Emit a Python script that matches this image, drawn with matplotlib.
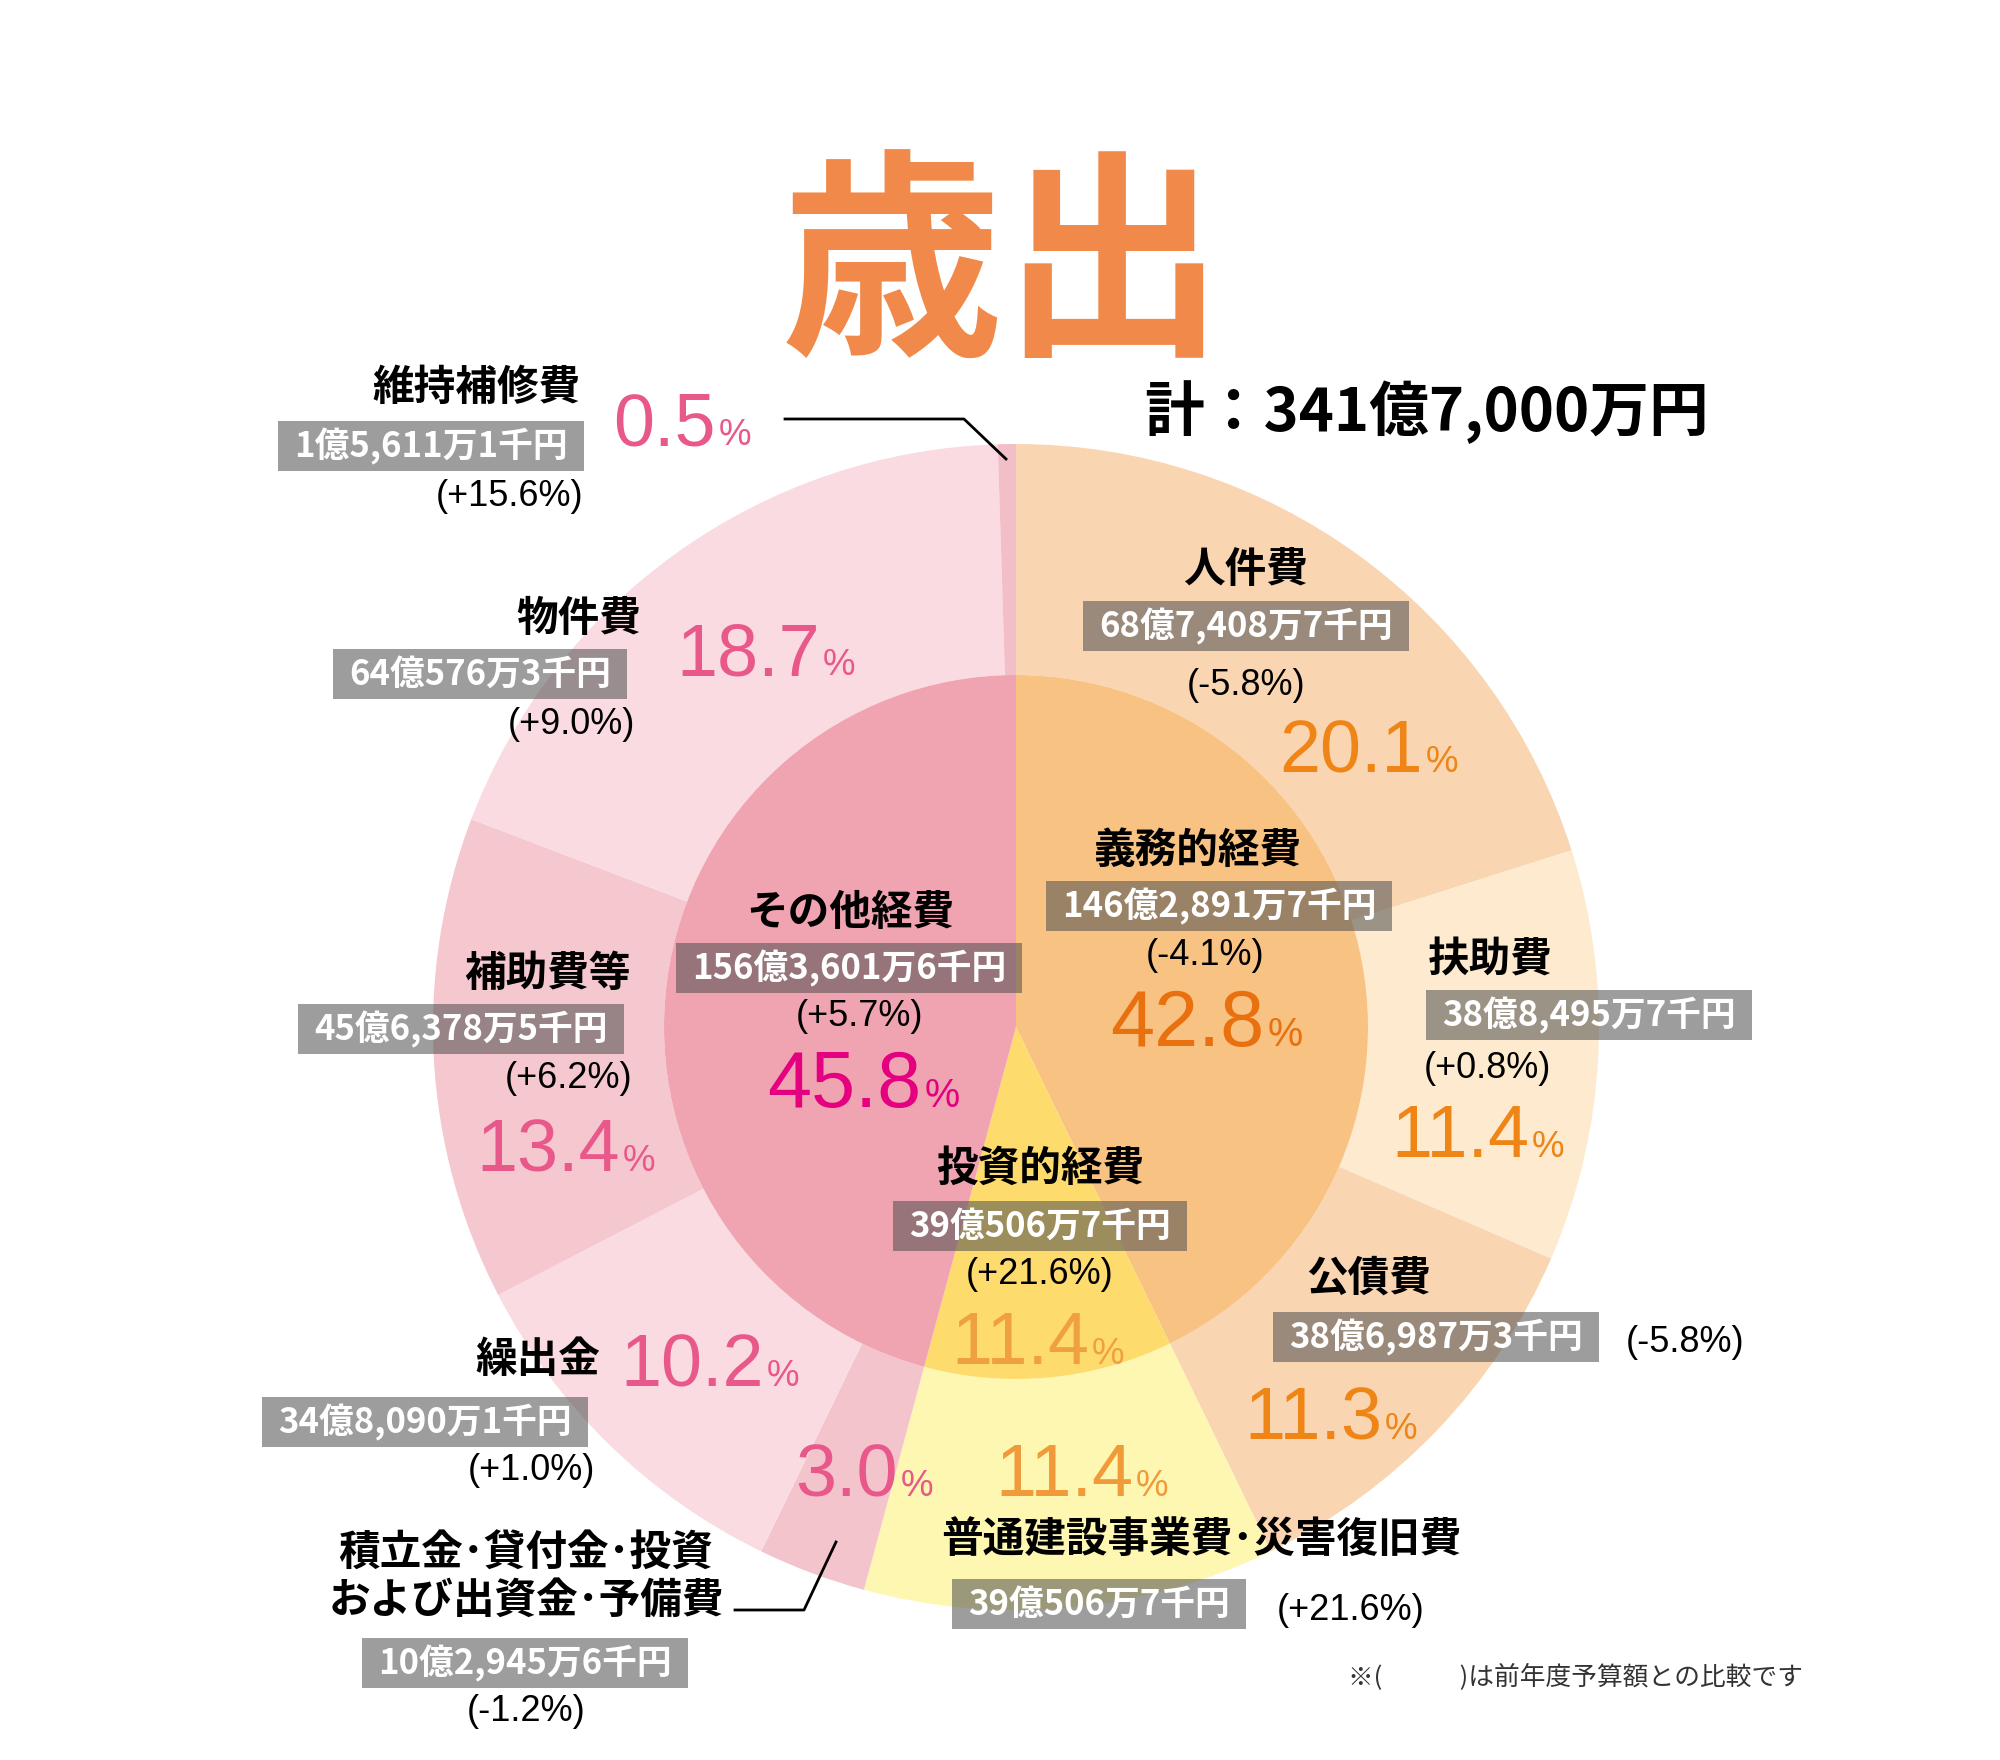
import matplotlib.pyplot as plt
from matplotlib.patches import Rectangle

# canvas in pixels
W, H = 2000, 1760

# ---- data ----
outer_labels = ['人件費', '扶助費', '公債費', '普通建設事業費･災害復旧費',
                '積立金･貸付金･投資\nおよび出資金･予備費', '繰出金', '補助費等',
                '物件費', '維持補修費']
outer_share = [20.1, 11.4, 11.3, 11.4, 3.0, 10.2, 13.4, 18.7, 0.5]
outer_amount = ['68億7,408万7千円', '38億8,495万7千円', '38億6,987万3千円',
                '39億506万7千円', '10億2,945万6千円', '34億8,090万1千円',
                '45億6,378万5千円', '64億576万3千円', '1億5,611万1千円']
outer_change = ['-5.8%', '+0.8%', '-5.8%', '+21.6%', '-1.2%', '+1.0%',
                '+6.2%', '+9.0%', '+15.6%']

inner_labels = ['義務的経費', '投資的経費', 'その他経費']
inner_share = [42.8, 11.4, 45.8]
inner_amount = ['146億2,891万7千円', '39億506万7千円', '156億3,601万6千円']
inner_change = ['-4.1%', '+21.6%', '+5.7%']

title = '歳出'
total = '計：341億7,000万円'
note = '※(　　　)は前年度予算額との比較です'

# ---- styles ----
outer_colors = ['#f9d5b2', '#fdeacf', '#f9d5b2', '#fef7b1', '#f4c4cd',
                '#f9dbe1', '#f5c7cf', '#f9dbe1', '#f2bfc9']
inner_colors = ['#f8c283', '#fddb6c', '#f0a3b0']
outer_pct_colors = ['#ee8516', '#ee8516', '#ee8516', '#f09a3a', '#e8588a',
                    '#e8588a', '#e8588a', '#e8588a', '#e8588a']
inner_pct_colors = ['#e9700f', '#f0a040', '#e4007f']

JP = ['Noto Sans CJK JP', 'DejaVu Sans']
NUM = ['Liberation Sans', 'DejaVu Sans']

cx, cy = 1016, 1027
r_out, r_in = 583, 352

# label layout (image pixel coords): name(x, y, ha), box centre, change(x, y, ha), pct left/centre
outer_layout = [
    ((1246, 570, 'center'), (1246, 626), (1246, 685, 'center'), (1279, 746)),
    ((1490, 960, 'center'), (1589, 1015), (1487, 1068, 'center'), (1391, 1131)),
    ((1369, 1279, 'center'), (1436, 1337), (1626, 1342, 'left'), (1244, 1413)),
    ((1201, 1540, 'center'), (1099, 1604), (1277, 1610, 'left'), (995, 1470)),
    ((526, 1577, 'center'), (525, 1663), (526, 1711, 'center'), (795, 1470)),
    ((600, 1360, 'right'), (425, 1422), (595, 1470, 'right'), (620, 1360)),
    ((631, 974, 'right'), (461, 1029), (632, 1078, 'right'), (476, 1145)),
    ((641, 619, 'right'), (480, 674), (635, 724, 'right'), (676, 649)),
    ((581, 388, 'right'), (431, 446), (583, 496, 'right'), (613, 419)),
]
inner_layout = [
    ((1197, 851, 'center'), (1219, 906), (1205, 955, 'center'), (1110, 1018)),
    ((1040, 1169, 'center'), (1040, 1226), (1040, 1274, 'center'), (951, 1338)),
    ((850, 913, 'center'), (849, 968), (860, 1017, 'center'), (767, 1079)),
]


def Y(y):
    return H - y


fig = plt.figure(figsize=(W / 100, H / 100), dpi=100)
ax = fig.add_axes([0, 0, 1, 1])

ax.pie(outer_share, radius=r_out, center=(cx, Y(cy)), startangle=90,
       counterclock=False, colors=outer_colors,
       wedgeprops=dict(width=r_out - r_in, linewidth=0))
ax.pie(inner_share, radius=r_in, center=(cx, Y(cy)), startangle=90,
       counterclock=False, colors=inner_colors,
       wedgeprops=dict(linewidth=0))

ax.set_xlim(0, W)
ax.set_ylim(0, H)
ax.set_aspect('equal')
ax.axis('off')

renderer = fig.canvas.get_renderer()


def boxed(x, y, s):
    t = ax.text(x, Y(y), s, ha='center', va='center', color='white',
                fontsize=25, fontweight='bold', family=JP, zorder=5)
    bb = t.get_window_extent(renderer)
    ax.add_patch(Rectangle((bb.x0 - 16, Y(y) - 25), bb.width + 32, 50,
                           fc='#505050', alpha=0.56, ec='none', zorder=4))


def pct(x, y, value, color, size):
    base = Y(y + 0.358 * size * 100 / 72)
    t = ax.text(x, base, f'{value:.1f}', ha='left', va='baseline',
                color=color, fontsize=size, family=NUM, zorder=5)
    bb = t.get_window_extent(renderer)
    ax.text(bb.x1 + 3, base, '%', ha='left', va='baseline',
            color=color, fontsize=size * 0.5, family=NUM, zorder=5)


def label(layout, name, amount, change, share, color, size):
    (nx, ny, nha), (bx, by), (chx, chy, cha), (px, py) = layout
    ax.text(nx, Y(ny), name, ha=nha, va='center', fontsize=30,
            fontweight='bold', family=JP, linespacing=1.15, zorder=5)
    boxed(bx, by, amount)
    ax.text(chx, Y(chy), f'({change})', ha=cha, va='center', fontsize=26,
            family=NUM, zorder=5)
    pct(px, py, share, color, size)


for i in range(len(outer_labels)):
    label(outer_layout[i], outer_labels[i], outer_amount[i], outer_change[i],
          outer_share[i], outer_pct_colors[i], 53)

for i in range(len(inner_labels)):
    size = 53 if i == 1 else 57
    label(inner_layout[i], inner_labels[i], inner_amount[i], inner_change[i],
          inner_share[i], inner_pct_colors[i], size)

# leader lines
ax.plot([785, 964, 1006], [Y(419), Y(419), Y(459)], color='black', lw=2, zorder=6)
ax.plot([735, 804, 836], [Y(1610), Y(1610), Y(1542)], color='black', lw=2, zorder=6)

# titles and note
ax.text(1003, Y(274), title, ha='center', va='center', fontsize=160,
        fontweight='bold', color='#f0894a', family=JP)
ax.text(1427, Y(412), total, ha='center', va='center', fontsize=43,
        fontweight='bold', color='black', family=JP)
ax.text(1575, Y(1677), note, ha='center', va='center', fontsize=18.5,
        color='#333333', family=JP)

fig.savefig('out.png', dpi=100)
